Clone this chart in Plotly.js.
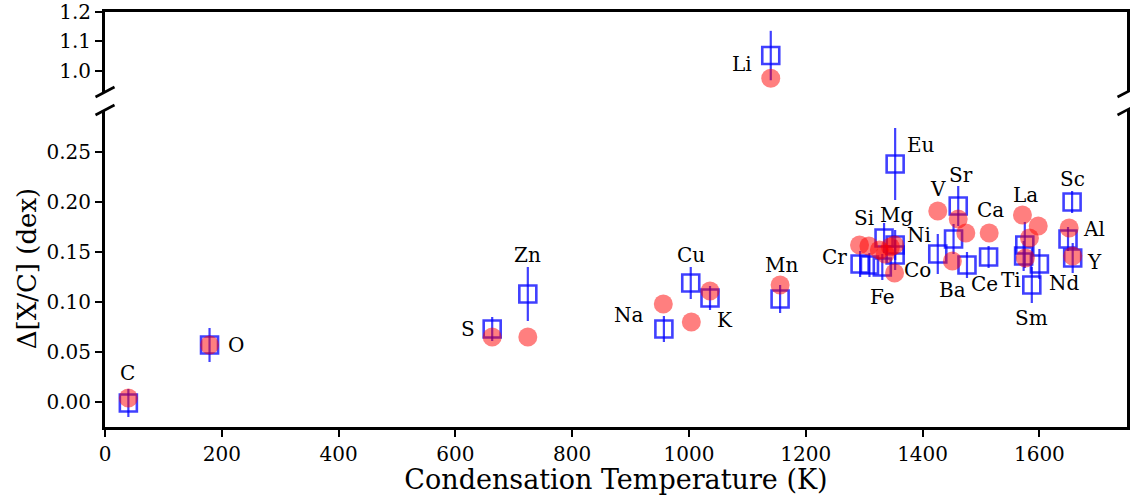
<!DOCTYPE html>
<html>
<head>
<meta charset="utf-8">
<script src="https://cdn.plot.ly/plotly-3.0.1.min.js"></script>
<style>html,body{margin:0;padding:0;background:#fff;}#plot{width:1130px;height:495px;}</style>
</head>
<body>
<div id="plot"></div>
<script>
// Red circles: condensation temperature (K) and Δ[X/C] (dex)
const redT   = [40, 179, 663, 724, 956, 1004, 1036, 1156, 1140,
                1292, 1308, 1326, 1336, 1345, 1352, 1352,
                1426, 1461, 1474, 1514, 1451,
                1571, 1598, 1583, 1576, 1651, 1657];
const redVal = [0.004, 0.057, 0.065, 0.065, 0.098, 0.080, 0.111, 0.117, 0.975,
                0.157, 0.156, 0.152, 0.148, 0.155, 0.157, 0.129,
                0.191, 0.183, 0.169, 0.169, 0.141,
                0.187, 0.176, 0.164, 0.144, 0.174, 0.146];

// Blue squares with error bars
const blueT   = [40, 179, 663, 724, 957, 1003, 1036, 1156, 1140,
                 1293, 1309, 1331, 1334, 1353, 1353, 1353,
                 1426, 1453, 1461, 1476, 1513,
                 1575, 1573, 1600, 1587, 1656, 1649, 1657];
const blueVal = [-0.001, 0.057, 0.073, 0.108, 0.073, 0.119, 0.104, 0.103, 1.052,
                 0.138, 0.137, 0.135, 0.164, 0.157, 0.147, 0.238,
                 0.148, 0.163, 0.196, 0.137, 0.145,
                 0.157, 0.146, 0.138, 0.117, 0.200, 0.163, 0.144];
const blueErr = [0.014, 0.017, 0.012, 0.027, 0.013, 0.016, 0.012, 0.014, 0.084,
                 0.013, 0.012, 0.013, 0.015, 0.015, 0.015, 0.036,
                 0.020, 0.015, 0.020, 0.013, 0.011,
                 0.023, 0.015, 0.015, 0.018, 0.011, 0.012, 0.015];

// Element labels
const labelText = ['C','O','S','Zn','Na','Cu','K','Mn','Li','Cr','Si','Mg','Ni','Co','Fe','Eu',
                   'V','Sr','Ca','Ba','Ce','La','Ti','Nd','Sm','Sc','Al','Y'];
const labelT    = [39, 224, 621, 724, 898, 1003, 1062, 1158, 1090, 1249, 1300, 1356, 1394, 1392, 1332, 1397,
                   1426, 1465, 1516, 1452, 1506, 1576, 1552, 1643, 1587, 1657, 1694, 1694];
const labelVal  = [0.029, 0.057, 0.073, 0.147, 0.087, 0.147, 0.082, 0.137, 1.023, 0.145, 0.184, 0.187, 0.167, 0.132, 0.105, 0.257,
                   0.213, 0.227, 0.192, 0.112, 0.118, 0.207, 0.122, 0.119, 0.084, 0.223, 0.173, 0.140];

const SPLIT = 0.5;
const FONT = 'DejaVu Serif';
const blueCol = 'rgba(0,0,255,0.75)';
const redCol = 'rgba(255,0,0,0.5)';

function pick(arr, vals, top) { return arr.filter((_, i) => top ? vals[i] > SPLIT : vals[i] <= SPLIT); }

const traces = [];
[false, true].forEach(top => {
  traces.push({
    x: pick(blueT, blueVal, top), y: pick(blueVal, blueVal, top),
    error_y: {type: 'data', array: pick(blueErr, blueVal, top), color: blueCol, thickness: 2.2, width: 0},
    mode: 'markers', type: 'scatter', yaxis: top ? 'y2' : 'y', xaxis: top ? 'x2' : 'x',
    marker: {symbol: 'square-open', size: 17, color: blueCol, line: {width: 2.6, color: blueCol}},
    hoverinfo: 'x+y', showlegend: false
  });
  traces.push({
    x: pick(redT, redVal, top), y: pick(redVal, redVal, top),
    mode: 'markers', type: 'scatter', yaxis: top ? 'y2' : 'y', xaxis: top ? 'x2' : 'x',
    marker: {symbol: 'circle', size: 19, color: redCol, line: {width: 0}},
    hoverinfo: 'x+y', showlegend: false
  });
});

const annotations = labelText.map((t, i) => ({
  text: t, x: labelT[i], y: labelVal[i], xref: labelVal[i] > SPLIT ? 'x2' : 'x', yref: labelVal[i] > SPLIT ? 'y2' : 'y',
  showarrow: false, xanchor: 'center', yanchor: 'middle', font: {family: FONT, size: 20, color: '#000'}
}));

// Break marks
const shapes = [];
const botTop = 0.7639, topBot = 0.8072;
[0, 1].forEach(px => {
  [botTop, topBot].forEach(py => {
    shapes.push({type: 'line', xref: 'paper', yref: 'paper', xsizemode: 'pixel', ysizemode: 'pixel',
      xanchor: px, yanchor: py, x0: -9.5, x1: 9.5, y0: -5, y1: 5, line: {color: '#000', width: 2.6}});
  });
});

const axisCommon = {showgrid: false, zeroline: false, linecolor: '#000', linewidth: 3, ticks: 'outside',
  ticklen: 7, tickwidth: 2, tickcolor: '#000', tickfont: {family: FONT, size: 20, color: '#000'}};

const layout = {
  width: 1130, height: 495,
  margin: {l: 105, r: 3, t: 12, b: 68},
  paper_bgcolor: '#fff', plot_bgcolor: '#fff',
  showlegend: false,
  xaxis: Object.assign({}, axisCommon, {range: [0, 1750], tickvals: [0,200,400,600,800,1000,1200,1400,1600],
    showline: true, anchor: 'y',
    title: {text: 'Condensation Temperature (K)', font: {family: FONT, size: 27, color: '#000'}, standoff: 2}}),
  xaxis2: Object.assign({}, axisCommon, {range: [0, 1750], matches: 'x', showline: true, side: 'top', anchor: 'y2',
    ticks: '', showticklabels: false}),
  yaxis: Object.assign({}, axisCommon, {domain: [0, botTop], range: [-0.025, 0.292], tickvals: [0, 0.05, 0.1, 0.15, 0.2, 0.25],
    tickformat: '.2f', showline: true, mirror: true, anchor: 'x',
    title: {text: 'Δ[X/C] (dex)', font: {family: FONT, size: 26, color: '#000'}, standoff: 3}}),
  yaxis2: Object.assign({}, axisCommon, {domain: [topBot, 1], range: [0.928, 1.2], tickvals: [1.0, 1.1, 1.2],
    tickformat: '.1f', showline: true, mirror: true, anchor: 'x2'}),
  annotations: annotations,
  shapes: shapes
};

Plotly.newPlot('plot', traces, layout, {displayModeBar: false, staticPlot: true});
</script>
</body>
</html>
